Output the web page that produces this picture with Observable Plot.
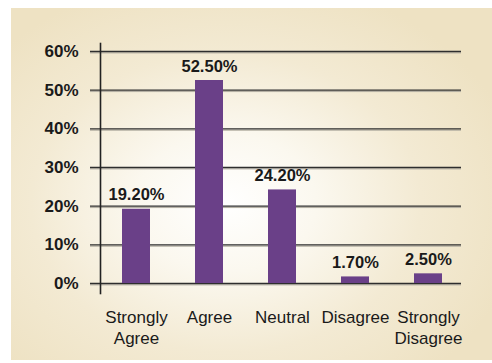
<!DOCTYPE html>
<html>
<head>
<meta charset="utf-8">
<script src="https://cdn.jsdelivr.net/npm/d3@7"></script>
<script src="https://cdn.jsdelivr.net/npm/@observablehq/plot@0.6"></script>
<style>
  html, body { margin: 0; padding: 0; background: #ffffff; }
  #wrap { position: relative; width: 492px; height: 363px; overflow: hidden; }
  #bg {
    position: absolute; left: 11px; top: 8px; width: 481px; height: 352px;
    background: radial-gradient(ellipse 300px 230px at 215px 195px, #ffffff 0%, #fbf8ef 30%, #f3ead3 65%, #eee2c3 100%);
  }
  #chart { position: absolute; left: 0; top: 0; }
  #chart svg { background: transparent !important; }
</style>
</head>
<body>
<div id="wrap"><div id="bg"></div><div id="chart"></div></div>
<script>
const categories = ["Strongly\nAgree", "Agree", "Neutral", "Disagree", "Strongly\nDisagree"];
const values = [19.2, 52.5, 24.2, 1.7, 2.5];
const valueLabels = ["19.20%", "52.50%", "24.20%", "1.70%", "2.50%"];
const yTicks = [0, 10, 20, 30, 40, 50, 60];
const yTickLabels = ["0%", "10%", "20%", "30%", "40%", "50%", "60%"];

const data = categories.map((c, i) => ({category: c, value: values[i], label: valueLabels[i]}));

const chart = Plot.plot({
  width: 492,
  height: 363,
  marginLeft: 100,
  marginRight: 31,
  marginTop: 51,
  marginBottom: 80,
  style: {background: "transparent", fontFamily: "'Liberation Sans', Arial, sans-serif", color: "#1a1a1a"},
  x: {domain: categories, paddingInner: 0.62, paddingOuter: 0.31, insetLeft: -2, insetRight: -4, label: null},
  y: {domain: [0, 60], label: null},
  marks: [
    Plot.ruleY(yTicks, {y: d => d, stroke: "#b0aca0", strokeWidth: 1, dy: 1.4, insetLeft: -10}),
    Plot.ruleY(yTicks, {y: d => d, stroke: "#2e2e2e", strokeWidth: 1.4, insetLeft: -10}),
    Plot.frame({anchor: "left", stroke: "#222", strokeWidth: 1.6, insetTop: -8, insetBottom: -10}),
    Plot.barY(data, {x: "category", y: "value", fill: "#6a4088"}),
    Plot.text(data, {x: "category", y: "value", text: "label", lineAnchor: "bottom", dy: -9, fontSize: 16.5, fontWeight: "bold", fill: "#1a1a1a"}),
    Plot.axisY(yTicks, {tickSize: 0, tickPadding: 22, fontSize: 17, fontWeight: "bold", tickFormat: (d) => yTickLabels[yTicks.indexOf(d)], label: null}),
    Plot.axisX({tickSize: 0, tickPadding: 25, fontSize: 17, lineHeight: 1.22, label: null})
  ]
});
document.getElementById("chart").appendChild(chart);
</script>
</body>
</html>
